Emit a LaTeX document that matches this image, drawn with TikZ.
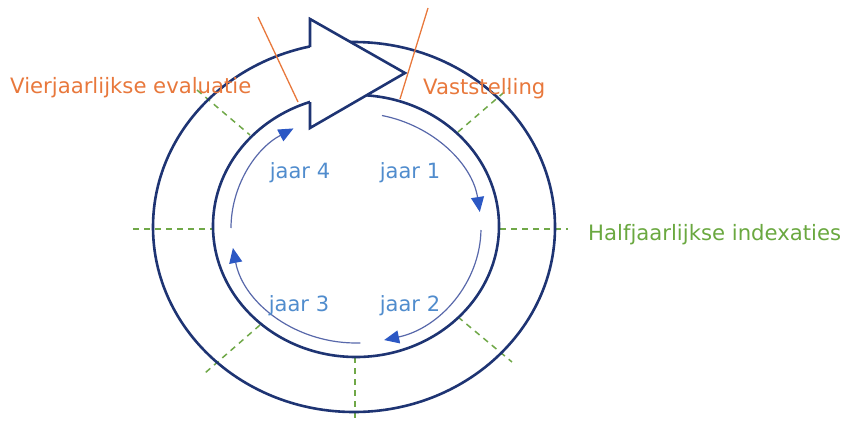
\documentclass[tikz,border=0pt]{standalone}
\usepackage{fontspec}
\setmainfont{DejaVu Sans}
\usetikzlibrary{arrows.meta}
\definecolor{ringblue}{RGB}{30,52,115}
\definecolor{arcblue}{RGB}{88,104,170}
\definecolor{headblue}{RGB}{44,88,196}
\definecolor{yeartext}{RGB}{80,140,205}
\definecolor{mainorange}{RGB}{232,120,60}
\definecolor{dashgreen}{RGB}{112,168,72}
\definecolor{textgreen}{RGB}{106,168,64}

\begin{document}
\begin{tikzpicture}[x=1pt,y=1pt,yscale=-1,
    ring/.style={draw=ringblue, line width=2.6pt},
    yeararc/.style={draw=arcblue, line width=1.2pt, -{Triangle[length=15pt,width=13pt,color=headblue]}},
    halfyear/.style={draw=dashgreen, line width=1.5pt, dash pattern=on 6pt off 5pt},
    cut/.style={draw=mainorange, line width=1.3pt},
    bigtext/.style={font=\fontsize{21.2}{24}\selectfont, inner sep=0pt, anchor=base west},
    yeartag/.style={font=\fontsize{21}{24}\selectfont, inner sep=0pt, anchor=base, text=yeartext}]
    \useasboundingbox (0,0) rectangle (858,423);
    %Dashed Lines: half-year indexations
    \draw [halfyear] (133,229) -- (213,229) ;
    \draw [halfyear] (500,229) -- (568,229) ;
    \draw [halfyear] (197,90) -- (250,135) ;
    \draw [halfyear] (458,132) -- (509,88) ;
    \draw [halfyear] (458,317) -- (512,362) ;
    \draw [halfyear] (260,325) -- (205,373) ;
    \draw [halfyear] (355,357) -- (355,420) ;
    %Shape: Ellipses
    \draw [ring] (354,227) ellipse [x radius=201, y radius=185] ;
    \draw [ring] (356,226) ellipse [x radius=143, y radius=131] ;
    %Shape: Big Arrow
    \fill [white] (310,19) -- (405,73) -- (310,128) -- cycle ;
    \draw [ring, line join=miter] (310,47) -- (310,19) -- (405,73) -- (310,128) -- (310,102) ;
    %Straight Lines: orange cuts
    \draw [cut] (258,17) -- (298,102) ;
    \draw [cut] (428,8) -- (400,99) ;
    %Curve Lines: years
    \draw [yeararc] (356,228) ++(-78:125 and 115) arc [start angle=-78, end angle=-8, x radius=125, y radius=115] ;
    \draw [yeararc] (356,228) ++(1:125 and 115) arc [start angle=1, end angle=77, x radius=125, y radius=115] ;
    \draw [yeararc] (356,228) ++(88:125 and 115) arc [start angle=88, end angle=170, x radius=125, y radius=115] ;
    \draw [yeararc] (356,228) ++(180:125 and 115) arc [start angle=180, end angle=240, x radius=125, y radius=115] ;

    % Text Node
    \node (evaluatie) [bigtext, text=mainorange] at (10,93) {Vierjaarlijkse evaluatie};
    % Text Node
    \node (vaststelling) [bigtext, text=mainorange] at (423,94) {Vaststelling};
    % Text Node
    \node (indexaties) [bigtext, text=textgreen] at (588,240) {Halfjaarlijkse indexaties};
    % Text Node
    \node (jaar1) [yeartag] at (410,178) {jaar 1};
    % Text Node
    \node (jaar2) [yeartag] at (410,311) {jaar 2};
    % Text Node
    \node (jaar3) [yeartag] at (299,311) {jaar 3};
    % Text Node
    \node (jaar4) [yeartag] at (300,178) {jaar 4};

\end{tikzpicture}
\end{document}
